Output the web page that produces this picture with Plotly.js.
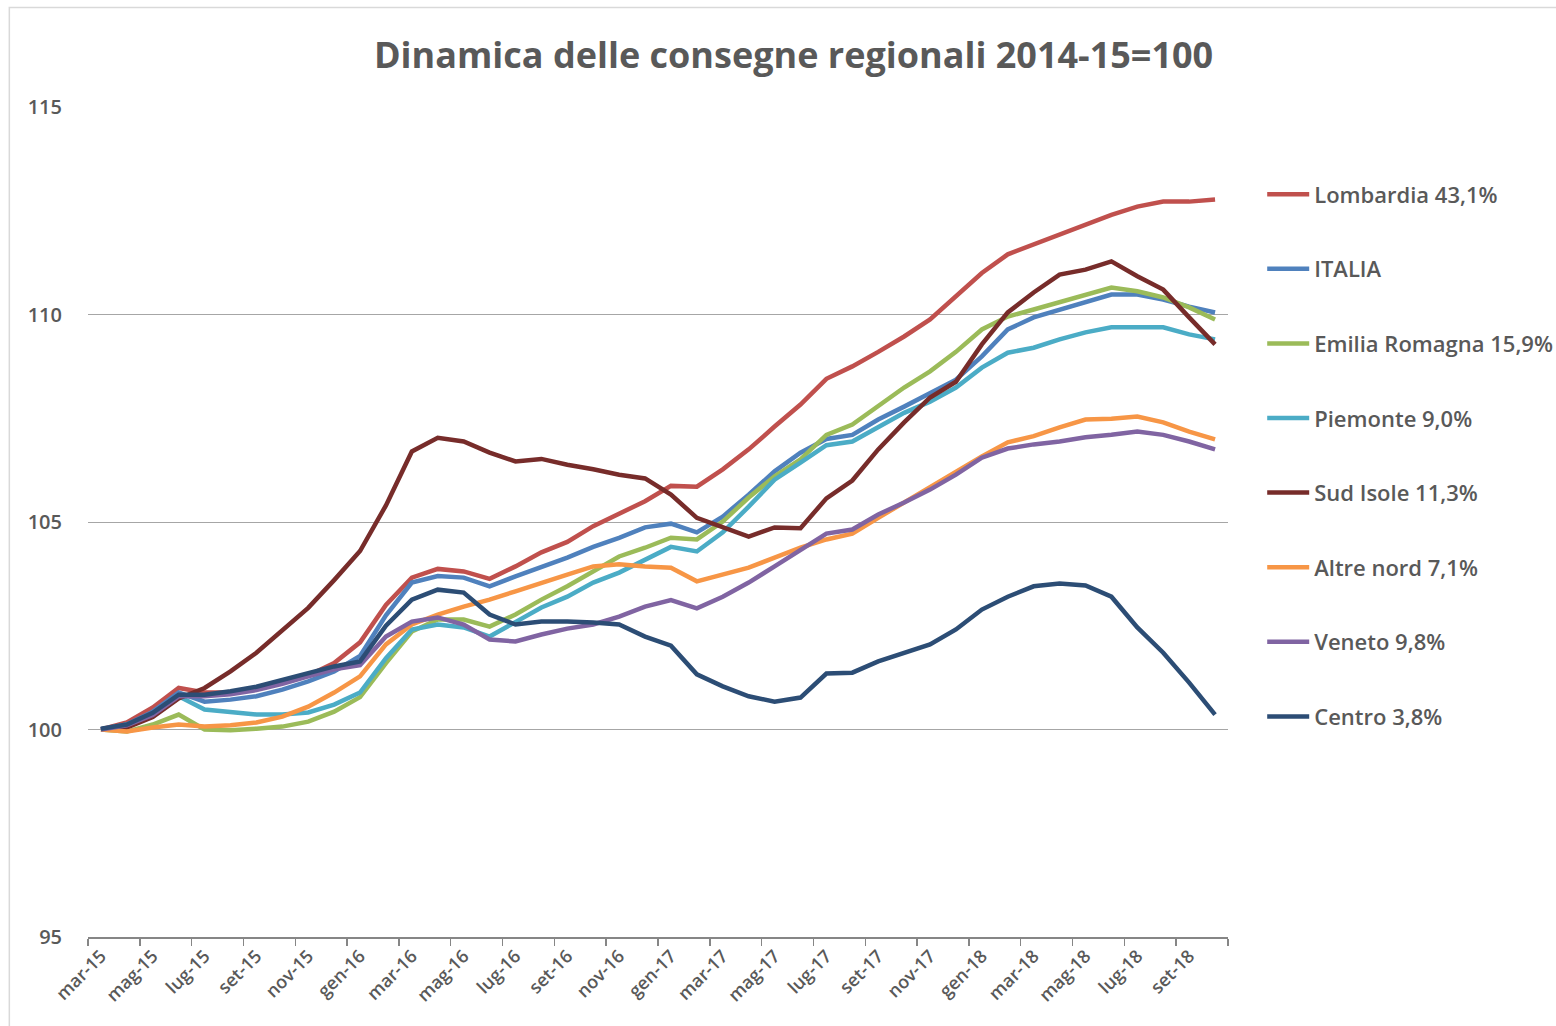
<!DOCTYPE html>
<html>
<head>
<meta charset="utf-8">
<script src="https://cdn.plot.ly/plotly-3.0.1.min.js"></script>
<style>
  html, body { margin: 0; padding: 0; background: #fff; }
  #chart { width: 1556px; height: 1026px; }
</style>
</head>
<body>
<div id="chart"></div>
<script>
// mesi (mar-15 .. ott-18)
var mesi = ['mar-15','apr-15','mag-15','giu-15','lug-15','ago-15','set-15','ott-15','nov-15','dic-15',
  'gen-16','feb-16','mar-16','apr-16','mag-16','giu-16','lug-16','ago-16','set-16','ott-16','nov-16','dic-16',
  'gen-17','feb-17','mar-17','apr-17','mag-17','giu-17','lug-17','ago-17','set-17','ott-17','nov-17','dic-17',
  'gen-18','feb-18','mar-18','apr-18','mag-18','giu-18','lug-18','ago-18','set-18','ott-18'];

var lombardia = [100.0,100.17,100.53,101.0,100.89,100.9,101.0,101.15,101.3,101.6,
  102.1,103.0,103.66,103.87,103.81,103.63,103.93,104.27,104.52,104.9,105.2,105.5,
  105.87,105.85,106.27,106.75,107.3,107.83,108.45,108.75,109.1,109.47,109.88,110.43,
  111.0,111.45,111.69,111.93,112.17,112.4,112.6,112.72,112.72,112.77];

var italia = [100.0,100.12,100.43,100.89,100.67,100.72,100.8,100.96,101.16,101.4,
  101.77,102.75,103.54,103.7,103.66,103.45,103.69,103.92,104.14,104.4,104.62,104.87,
  104.96,104.75,105.13,105.66,106.22,106.67,107.0,107.1,107.47,107.78,108.12,108.43,
  108.99,109.64,109.93,110.12,110.31,110.48,110.48,110.36,110.19,110.05];

var emilia = [100.0,99.95,100.12,100.36,100.0,99.98,100.02,100.07,100.19,100.43,
  100.78,101.6,102.36,102.65,102.65,102.48,102.77,103.13,103.45,103.81,104.17,104.38,
  104.62,104.58,105.01,105.59,106.1,106.51,107.1,107.35,107.78,108.24,108.63,109.1,
  109.64,109.95,110.12,110.29,110.48,110.65,110.56,110.41,110.17,109.88];

var piemonte = [100.0,100.12,100.36,100.8,100.48,100.41,100.36,100.36,100.41,100.6,
  100.89,101.72,102.41,102.53,102.46,102.24,102.6,102.94,103.2,103.54,103.78,104.1,
  104.4,104.29,104.75,105.37,106.02,106.43,106.85,106.94,107.3,107.63,107.9,108.24,
  108.72,109.08,109.2,109.4,109.57,109.69,109.69,109.69,109.52,109.4];

var sudIsole = [100.0,100.05,100.3,100.75,101.0,101.4,101.85,102.38,102.93,103.6,
  104.3,105.4,106.7,107.03,106.94,106.67,106.46,106.52,106.38,106.27,106.14,106.05,
  105.66,105.1,104.87,104.65,104.87,104.85,105.57,106.0,106.75,107.4,108.0,108.38,
  109.28,110.05,110.53,110.96,111.08,111.28,110.92,110.6,109.93,109.28];

var altreNord = [100.0,99.95,100.05,100.12,100.07,100.1,100.17,100.31,100.55,100.89,
  101.28,102.05,102.53,102.77,102.96,103.13,103.33,103.54,103.73,103.93,103.98,103.93,
  103.9,103.57,103.73,103.9,104.14,104.38,104.58,104.72,105.1,105.47,105.83,106.22,
  106.58,106.92,107.07,107.28,107.47,107.49,107.54,107.4,107.18,106.99];

var veneto = [100.0,100.1,100.35,100.8,100.8,100.85,100.95,101.1,101.28,101.45,
  101.55,102.24,102.6,102.7,102.53,102.17,102.12,102.29,102.43,102.53,102.72,102.96,
  103.12,102.92,103.2,103.54,103.93,104.34,104.72,104.82,105.18,105.47,105.78,106.14,
  106.55,106.77,106.87,106.94,107.04,107.1,107.18,107.1,106.94,106.75];

var centro = [100.02,100.12,100.4,100.84,100.84,100.92,101.03,101.2,101.37,101.52,
  101.64,102.5,103.13,103.37,103.3,102.77,102.53,102.6,102.6,102.58,102.53,102.24,
  102.02,101.33,101.04,100.8,100.67,100.77,101.35,101.37,101.64,101.85,102.05,102.41,
  102.89,103.2,103.45,103.52,103.47,103.2,102.46,101.85,101.13,100.36];

var nomi = ['Lombardia 43,1%','ITALIA','Emilia Romagna 15,9%','Piemonte 9,0%',
  'Sud Isole 11,3%','Altre nord 7,1%','Veneto 9,8%','Centro 3,8%'];
var valori = [lombardia, italia, emilia, piemonte, sudIsole, altreNord, veneto, centro];
var colori = ['#C0504D','#4F81BD','#9BBB59','#4BACC6','#772C2A','#F79646','#8064A2','#2C4D75'];

var traces = valori.map(function(v, i) {
  return {
    type: 'scatter',
    mode: 'lines',
    x: mesi,
    y: v,
    name: nomi[i],
    legendgroup: 'g' + i,
    line: {color: colori[i], width: 4.5}
  };
});

var grigio = '#595959';

var layout = {
  width: 1556,
  height: 1026,
  paper_bgcolor: '#fff',
  plot_bgcolor: '#fff',
  margin: {l: 88, r: 328, t: 107, b: 89, autoexpand: false},
  title: {
    text: 'Dinamica delle consegne regionali 2014-15=100',
    font: {family: 'Open Sans, sans-serif', size: 36, weight: 700, color: grigio},
    xref: 'container', x: 0.51, xanchor: 'center',
    yref: 'container', y: 0.946, yanchor: 'middle'
  },
  xaxis: {
    type: 'category',
    range: [-0.5, mesi.length - 0.5],
    tickmode: 'linear', tick0: 0, dtick: 2,
    tickson: 'boundaries',
    ticks: 'outside', ticklen: 7, tickcolor: '#868686', tickwidth: 1.5,
    showline: true, linecolor: '#868686', linewidth: 1.5,
    showgrid: false,
    tickangle: -45,
    automargin: false,
    tickfont: {family: 'Open Sans, sans-serif', size: 18, weight: 600, color: grigio}
  },
  yaxis: {
    range: [95, 115],
    tickmode: 'linear', tick0: 95, dtick: 5,
    showgrid: true, gridcolor: '#a6a6a6', gridwidth: 1,
    zeroline: false, showline: false,
    automargin: false,
    ticklabelstandoff: 25,
    tickfont: {family: 'Open Sans, sans-serif', size: 20, weight: 600, color: grigio}
  },
  showlegend: true,
  legend: {
    x: 1.030, xanchor: 'left',
    y: 0.92, yanchor: 'top',
    traceorder: 'grouped',
    tracegroupgap: 43,
    itemwidth: 42,
    bgcolor: 'rgba(0,0,0,0)',
    font: {family: 'Open Sans, sans-serif', size: 22, weight: 600, color: grigio}
  },
  shapes: [{
    type: 'rect', xref: 'paper', yref: 'paper',
    x0: -0.069, x1: 1.3, y0: -0.2, y1: 1.12,
    line: {color: '#d9d9d9', width: 1.5}
  }]
};

Plotly.newPlot('chart', traces, layout, {displayModeBar: false, staticPlot: true});
</script>
</body>
</html>
